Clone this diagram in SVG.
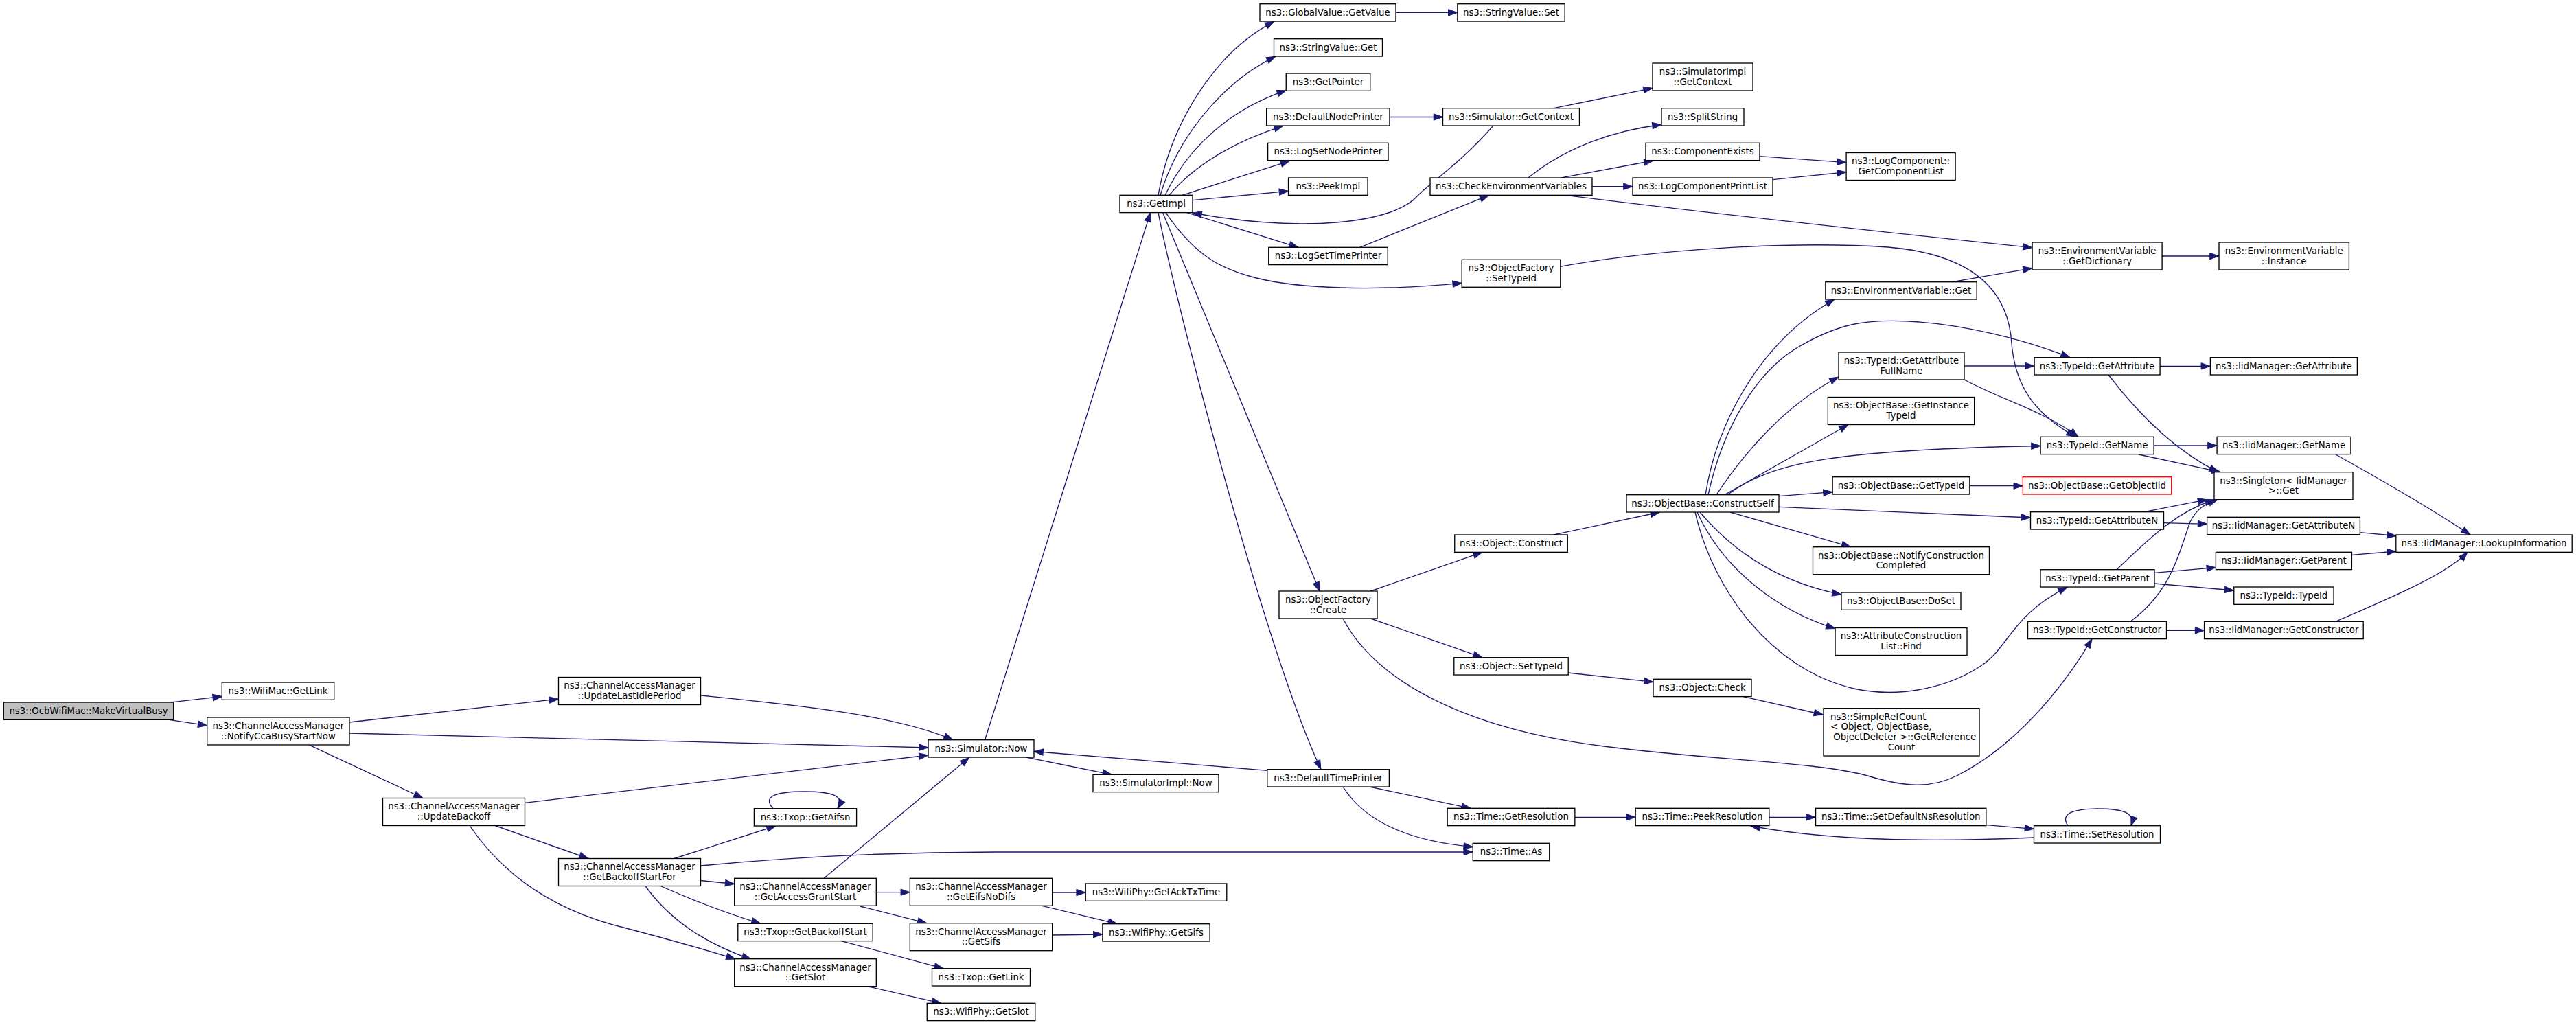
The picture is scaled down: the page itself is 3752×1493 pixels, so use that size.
<svg xmlns="http://www.w3.org/2000/svg" width="3752" height="1493" viewBox="0 0 3752 1493">
<style>
.n rect{fill:#fff;stroke:#000;stroke-width:1.33}
.n text{font-family:"DejaVu Sans","Liberation Sans",sans-serif;font-size:13.33px;text-anchor:middle;fill:#000}
.n text.l{text-anchor:start}
.root rect{fill:#bfbfbf}
.red rect{stroke:#ff0000}
#edges path{fill:none;stroke:#191970;stroke-width:1.33;marker-end:url(#arr)}
</style>
<defs>
<marker id="arr" markerUnits="userSpaceOnUse" markerWidth="16" markerHeight="12" refX="13.3" refY="4.7" orient="auto" overflow="visible">
<path d="M0,0 L13.3,4.7 L0,9.4 z" fill="#191970" stroke="#191970" stroke-width="1"/>
</marker>
</defs>
<rect width="3752" height="1493" fill="#fff"/>
<g id="edges">
<path d="M248,1023 L323.3,1014.5"/>
<path d="M248,1048.7 L301.7,1056.7"/>
<path d="M508.6,1052 L813.5,1018.2"/>
<path d="M509,1068 L1352,1089"/>
<path d="M451,1085.3 L616,1162.5"/>
<path d="M1021,1013 C1150,1026 1300,1040 1388,1077.7"/>
<path d="M764.5,1169.4 L1352,1100"/>
<path d="M721,1202.5 L857,1250.5"/>
<path d="M684,1202.5 C740,1285 820,1330 912,1352 C980,1370 1030,1384 1071,1397"/>
<path d="M982,1250.5 L1130,1203"/>
<path d="M1020.5,1261 C1150,1249 1300,1241 1450,1241 L2145.3,1241"/>
<path d="M1020.5,1282.5 L1069.7,1287.5"/>
<path d="M962,1290.5 Q1040,1325 1108,1345.3"/>
<path d="M940,1290.5 C975,1340 1030,1376 1094,1397"/>
<path d="M1126,1177.7 C1110,1160 1130,1153 1171,1153 C1215,1153 1230,1160 1220,1177.7"/>
<path d="M1200,1279.3 L1411.6,1103.4"/>
<path d="M1276.3,1299.7 L1325.3,1299.7"/>
<path d="M1252.8,1320 L1349.8,1344.7"/>
<path d="M1532.7,1300 L1581.2,1300"/>
<path d="M1517.5,1319.3 L1627.2,1345.7"/>
<path d="M1532.7,1362 L1605.9,1361"/>
<path d="M1225.4,1370.6 L1374,1410.7"/>
<path d="M1265,1437 L1370.8,1461.3"/>
<path d="M1434.6,1077.7 L1675.6,309.6"/>
<path d="M1494.5,1103 L1619.5,1128.3"/>
<path d="M1846,1122.3 L1506,1094.5"/>
<path d="M1994.6,1146 L2142,1177.3"/>
<path d="M1956,1146 C1990,1200 2060,1226 2145.3,1233.5"/>
<path d="M1687,284.3 C1705,180 1770,75 1856,31.4"/>
<path d="M1690,284.3 C1715,200 1780,120 1858,82.2"/>
<path d="M1697,284.3 C1730,215 1790,160 1873.3,131.7"/>
<path d="M1703,284.3 C1740,240 1800,205 1869,183.3"/>
<path d="M1722,284.3 L1878.5,234.3"/>
<path d="M1737,291.7 L1876.5,278.3"/>
<path d="M1728.6,309.6 L1891,360.3"/>
<path d="M1698,309.6 C1745,380 1790,395 1830,405 C1890,420 2000,425 2129.2,412.3"/>
<path d="M1693.5,309.6 L1922,861"/>
<path d="M1687,309.6 C1710,430 1840,940 1924,1120.7"/>
<path d="M2033,18.4 L2122.8,18.4"/>
<path d="M2024,170.5 L2101.5,170.5"/>
<path d="M2263,157.7 L2407,128.3"/>
<path d="M2175,183 C2130,235 2085,265 2065,285 C2030,325 1900,340 1737,310"/>
<path d="M1980.5,360.3 L2168.7,284.3"/>
<path d="M2226,259 C2280,215 2350,190 2420,181.5"/>
<path d="M2274,259 L2408,234"/>
<path d="M2319,271.7 L2378,271.7"/>
<path d="M2280,284.3 Q2550,318 2960,360.7"/>
<path d="M2563,227.7 L2689,236.7"/>
<path d="M2582,261.7 L2689,250.7"/>
<path d="M2272.8,388.3 C2400,365 2600,350 2750,360 C2870,370 2925,420 2930,500 C2935,560 2960,600 3023,636.3"/>
<path d="M2843.4,410.7 L2960,390.7"/>
<path d="M3149,373 L3232,373"/>
<path d="M1996.5,861 L2159,804.3"/>
<path d="M1996.5,901 L2159,957.7"/>
<path d="M1956,901 C2000,985 2120,1060 2336,1087 C2500,1108 2650,1110 2720,1130 C2770,1145 2810,1150 2850,1130 C2930,1090 3000,1010 3047,930.6"/>
<path d="M2263,779 L2417.4,746"/>
<path d="M2284,980 L2408,993.3"/>
<path d="M2539,1014.6 L2655.4,1041"/>
<path d="M2484,720.7 C2500,620 2560,500 2672,436"/>
<path d="M2500,720.7 C2540,660 2600,590 2678,549"/>
<path d="M2488,720.7 C2510,620 2560,540 2620,505 C2680,470 2720,465 2780,468 C2860,472 2950,495 3015,520.7"/>
<path d="M2512,720.7 L2692,618.5"/>
<path d="M2516,720.7 C2580,672 2680,655 2972,649.5"/>
<path d="M2591,722.7 L2669.1,716.7"/>
<path d="M2591,738.3 L2957.5,754"/>
<path d="M2520,746 L2695.6,796.7"/>
<path d="M2476,746 C2530,810 2600,850 2682,866"/>
<path d="M2472,746 C2510,830 2590,890 2673,915.5"/>
<path d="M2469,746 C2495,860 2580,975 2700,1003 C2770,1018 2840,1000 2885,970 C2925,945 2930,895 3011,855.3"/>
<path d="M2861,533 L2963,533"/>
<path d="M2861,553 C2910,580 2980,600 3027,636.3"/>
<path d="M3146,533.4 L3219.4,533.4"/>
<path d="M3071,546 C3120,610 3175,660 3231,687.7"/>
<path d="M3137,649 L3229,649"/>
<path d="M3115,662 L3234.6,687.7"/>
<path d="M2869,707.7 L2946.3,707.7"/>
<path d="M3123,745.7 L3214.6,727.7"/>
<path d="M3151.6,761.7 L3214.6,763.3"/>
<path d="M3402,662 C3470,700 3540,740 3598,779"/>
<path d="M3437.4,775.7 L3490,780.5"/>
<path d="M3425.4,808.3 L3490,803"/>
<path d="M3402,905.3 C3460,880 3560,840 3594,804.3"/>
<path d="M3083,829.7 C3130,785 3170,745 3225,728"/>
<path d="M3138,834.3 L3227.4,826.7"/>
<path d="M3138,850 L3253.7,860"/>
<path d="M3103,905.3 C3165,860 3175,800 3190,760 C3200,740 3212,734 3230,728"/>
<path d="M3155.5,918.3 L3210.6,918.3"/>
<path d="M2293.8,1190.3 L2382.2,1190.3"/>
<path d="M2576.8,1190.3 L2644.5,1190.3"/>
<path d="M2893,1201.7 L2962.5,1207.3"/>
<path d="M2962.5,1220 C2850,1225 2680,1228 2550,1203"/>
<path d="M3012,1202.7 C3000,1185 3020,1178 3055,1178 C3095,1178 3110,1185 3104,1202.7"/>
</g>
<g id="n0" class="n root"><rect x="5.3" y="1023" width="247.4" height="25.33"/><text x="129" y="1039.8">ns3::OcbWifiMac::MakeVirtualBusy</text></g>
<g id="n1" class="n"><rect x="323.3" y="994" width="163.4" height="25.33"/><text x="405" y="1010.8">ns3::WifiMac::GetLink</text></g>
<g id="n2" class="n"><rect x="301.7" y="1045" width="207.3" height="40"/><text x="405.3" y="1061.8">ns3::ChannelAccessManager</text><text x="405.3" y="1076.5">::NotifyCcaBusyStartNow</text></g>
<g id="n3" class="n"><rect x="813.5" y="986.5" width="207" height="40"/><text x="917" y="1003.3">ns3::ChannelAccessManager</text><text x="917" y="1018">::UpdateLastIdlePeriod</text></g>
<g id="n4" class="n"><rect x="557.5" y="1162.5" width="207" height="40"/><text x="661" y="1179.3">ns3::ChannelAccessManager</text><text x="661" y="1194">::UpdateBackoff</text></g>
<g id="n5" class="n"><rect x="813.5" y="1250.5" width="207" height="40"/><text x="917" y="1267.3">ns3::ChannelAccessManager</text><text x="917" y="1282">::GetBackoffStartFor</text></g>
<g id="n6" class="n"><rect x="1098.4" y="1177.7" width="149.2" height="25.33"/><text x="1173" y="1194.5">ns3::Txop::GetAifsn</text></g>
<g id="n7" class="n"><rect x="1069.7" y="1279.3" width="206.6" height="40"/><text x="1173" y="1296.1">ns3::ChannelAccessManager</text><text x="1173" y="1310.8">::GetAccessGrantStart</text></g>
<g id="n8" class="n"><rect x="1074.8" y="1345.3" width="196.4" height="25.33"/><text x="1173" y="1362.1">ns3::Txop::GetBackoffStart</text></g>
<g id="n9" class="n"><rect x="1069.7" y="1396.7" width="206.6" height="40"/><text x="1173" y="1413.5">ns3::ChannelAccessManager</text><text x="1173" y="1428.2">::GetSlot</text></g>
<g id="n10" class="n"><rect x="1352" y="1077.7" width="154" height="25.33"/><text x="1429" y="1094.5">ns3::Simulator::Now</text></g>
<g id="n11" class="n"><rect x="1325.35" y="1279.3" width="207.3" height="40"/><text x="1429" y="1296.1">ns3::ChannelAccessManager</text><text x="1429" y="1310.8">::GetEifsNoDifs</text></g>
<g id="n12" class="n"><rect x="1325.35" y="1344.7" width="207.3" height="40"/><text x="1429" y="1361.5">ns3::ChannelAccessManager</text><text x="1429" y="1376.2">::GetSifs</text></g>
<g id="n13" class="n"><rect x="1357.5" y="1410.7" width="143" height="25.33"/><text x="1429" y="1427.5">ns3::Txop::GetLink</text></g>
<g id="n14" class="n"><rect x="1350.25" y="1461.3" width="157.5" height="25.33"/><text x="1429" y="1478.1">ns3::WifiPhy::GetSlot</text></g>
<g id="n15" class="n"><rect x="1592" y="1128.3" width="183" height="25.33"/><text x="1683.5" y="1145.1">ns3::SimulatorImpl::Now</text></g>
<g id="n16" class="n"><rect x="1581.2" y="1287" width="205.6" height="25.33"/><text x="1684" y="1303.8">ns3::WifiPhy::GetAckTxTime</text></g>
<g id="n17" class="n"><rect x="1605.9" y="1345.7" width="156.2" height="25.33"/><text x="1684" y="1362.5">ns3::WifiPhy::GetSifs</text></g>
<g id="n18" class="n"><rect x="1631" y="284.3" width="106" height="25.33"/><text x="1684" y="301.1">ns3::GetImpl</text></g>
<g id="n19" class="n"><rect x="1835" y="5.7" width="198" height="25.33"/><text x="1934" y="22.5">ns3::GlobalValue::GetValue</text></g>
<g id="n20" class="n"><rect x="2122.85" y="5.7" width="156.3" height="25.33"/><text x="2201" y="22.5">ns3::StringValue::Set</text></g>
<g id="n21" class="n"><rect x="1855.5" y="56.7" width="158" height="25.33"/><text x="1934.5" y="73.5">ns3::StringValue::Get</text></g>
<g id="n22" class="n"><rect x="1873.25" y="107" width="122.5" height="25.33"/><text x="1934.5" y="123.8">ns3::GetPointer</text></g>
<g id="n23" class="n"><rect x="1844.65" y="157.7" width="179.3" height="25.33"/><text x="1934.3" y="174.5">ns3::DefaultNodePrinter</text></g>
<g id="n24" class="n"><rect x="2101.5" y="157.7" width="199" height="25.33"/><text x="2201" y="174.5">ns3::Simulator::GetContext</text></g>
<g id="n25" class="n"><rect x="2407" y="92" width="146" height="40"/><text x="2480" y="108.8">ns3::SimulatorImpl</text><text x="2480" y="123.5">::GetContext</text></g>
<g id="n26" class="n"><rect x="2420" y="157.7" width="120" height="25.33"/><text x="2480" y="174.5">ns3::SplitString</text></g>
<g id="n27" class="n"><rect x="1846.6" y="208.3" width="175.4" height="25.33"/><text x="1934.3" y="225.1">ns3::LogSetNodePrinter</text></g>
<g id="n28" class="n"><rect x="2397" y="208.3" width="166" height="25.33"/><text x="2480" y="225.1">ns3::ComponentExists</text></g>
<g id="n29" class="n"><rect x="1876.55" y="259" width="115.5" height="25.33"/><text x="1934.3" y="275.8">ns3::PeekImpl</text></g>
<g id="n30" class="n"><rect x="2083" y="259" width="236" height="25.33"/><text x="2201" y="275.8">ns3::CheckEnvironmentVariables</text></g>
<g id="n31" class="n"><rect x="2378" y="259" width="204" height="25.33"/><text x="2480" y="275.8">ns3::LogComponentPrintList</text></g>
<g id="n32" class="n"><rect x="1847.75" y="360.3" width="173.5" height="25.33"/><text x="1934.5" y="377.1">ns3::LogSetTimePrinter</text></g>
<g id="n33" class="n"><rect x="2129.2" y="378.3" width="143.6" height="40"/><text x="2201" y="395.1">ns3::ObjectFactory</text><text x="2201" y="409.8">::SetTypeId</text></g>
<g id="n34" class="n"><rect x="2689.1" y="222.5" width="159" height="40"/><text x="2768.6" y="239.3">ns3::LogComponent::</text><text x="2768.6" y="254">GetComponentList</text></g>
<g id="n35" class="n"><rect x="2960.1" y="353" width="189" height="40"/><text x="3054.6" y="369.8">ns3::EnvironmentVariable</text><text x="3054.6" y="384.5">::GetDictionary</text></g>
<g id="n36" class="n"><rect x="3232" y="353" width="189.4" height="40"/><text x="3326.7" y="369.8">ns3::EnvironmentVariable</text><text x="3326.7" y="384.5">::Instance</text></g>
<g id="n37" class="n"><rect x="2658.85" y="410.7" width="220.3" height="25.33"/><text x="2769" y="427.5">ns3::EnvironmentVariable::Get</text></g>
<g id="n38" class="n"><rect x="2678" y="513" width="183" height="40"/><text x="2769.5" y="529.8">ns3::TypeId::GetAttribute</text><text x="2769.5" y="544.5">FullName</text></g>
<g id="n39" class="n"><rect x="2963.1" y="520.7" width="183" height="25.33"/><text x="3054.6" y="537.5">ns3::TypeId::GetAttribute</text></g>
<g id="n40" class="n"><rect x="3219.4" y="520.7" width="214" height="25.33"/><text x="3326.4" y="537.5">ns3::IidManager::GetAttribute</text></g>
<g id="n41" class="n"><rect x="2662.35" y="578.5" width="213.3" height="40"/><text x="2769" y="595.3">ns3::ObjectBase::GetInstance</text><text x="2769" y="610">TypeId</text></g>
<g id="n42" class="n"><rect x="2972.1" y="636.3" width="165" height="25.33"/><text x="3054.6" y="653.1">ns3::TypeId::GetName</text></g>
<g id="n43" class="n"><rect x="3229.1" y="636.3" width="194.8" height="25.33"/><text x="3326.5" y="653.1">ns3::IidManager::GetName</text></g>
<g id="n44" class="n"><rect x="3225" y="687.7" width="202" height="40"/><text x="3326" y="704.5">ns3::Singleton&lt; IidManager</text><text x="3326" y="719.2">&gt;::Get</text></g>
<g id="n45" class="n"><rect x="2669.15" y="694.7" width="199.7" height="25.33"/><text x="2769" y="711.5">ns3::ObjectBase::GetTypeId</text></g>
<g id="n46" class="n red"><rect x="2946.3" y="694.7" width="216.4" height="25.33"/><text x="3054.5" y="711.5">ns3::ObjectBase::GetObjectIid</text></g>
<g id="n47" class="n"><rect x="2369" y="720.7" width="222" height="25.33"/><text x="2480" y="737.5">ns3::ObjectBase::ConstructSelf</text></g>
<g id="n48" class="n"><rect x="2957.5" y="745.7" width="194" height="25.33"/><text x="3054.5" y="762.5">ns3::TypeId::GetAttributeN</text></g>
<g id="n49" class="n"><rect x="3214.6" y="753.3" width="222.8" height="25.33"/><text x="3326" y="770.1">ns3::IidManager::GetAttributeN</text></g>
<g id="n50" class="n"><rect x="3489.8" y="779" width="256.4" height="25.33"/><text x="3618" y="795.8">ns3::IidManager::LookupInformation</text></g>
<g id="n51" class="n"><rect x="2640.5" y="796.7" width="257" height="40"/><text x="2769" y="813.5">ns3::ObjectBase::NotifyConstruction</text><text x="2769" y="828.2">Completed</text></g>
<g id="n52" class="n"><rect x="3227.4" y="804.3" width="198" height="25.33"/><text x="3326.4" y="821.1">ns3::IidManager::GetParent</text></g>
<g id="n53" class="n"><rect x="2972" y="829.7" width="166" height="25.33"/><text x="3055" y="846.5">ns3::TypeId::GetParent</text></g>
<g id="n54" class="n"><rect x="3253.75" y="855" width="145.3" height="25.33"/><text x="3326.4" y="871.8">ns3::TypeId::TypeId</text></g>
<g id="n55" class="n"><rect x="2682" y="863" width="174" height="25.33"/><text x="2769" y="879.8">ns3::ObjectBase::DoSet</text></g>
<g id="n56" class="n"><rect x="2953.5" y="905.3" width="202" height="25.33"/><text x="3054.5" y="922.1">ns3::TypeId::GetConstructor</text></g>
<g id="n57" class="n"><rect x="3210.6" y="905.3" width="231.6" height="25.33"/><text x="3326.4" y="922.1">ns3::IidManager::GetConstructor</text></g>
<g id="n58" class="n"><rect x="2673" y="914.5" width="192" height="40"/><text x="2769" y="931.3">ns3::AttributeConstruction</text><text x="2769" y="946">List::Find</text></g>
<g id="n59" class="n"><rect x="1863" y="861" width="143" height="40"/><text x="1934.5" y="877.8">ns3::ObjectFactory</text><text x="1934.5" y="892.5">::Create</text></g>
<g id="n60" class="n"><rect x="2118.75" y="779" width="164.5" height="25.33"/><text x="2201" y="795.8">ns3::Object::Construct</text></g>
<g id="n61" class="n"><rect x="2117.8" y="957.7" width="166.4" height="25.33"/><text x="2201" y="974.5">ns3::Object::SetTypeId</text></g>
<g id="n62" class="n"><rect x="2408" y="989.3" width="143" height="25.33"/><text x="2479.5" y="1006.1">ns3::Object::Check</text></g>
<g id="n63" class="n"><rect x="2656" y="1031.7" width="227" height="69.33"/><text class="l" x="2666" y="1048.5">ns3::SimpleRefCount</text><text class="l" x="2666" y="1063.2">&lt; Object, ObjectBase,</text><text class="l" x="2670.2" y="1077.9">ObjectDeleter &gt;::GetReference</text><text x="2769.5" y="1092.5">Count</text></g>
<g id="n64" class="n"><rect x="1845.8" y="1120.7" width="177.6" height="25.33"/><text x="1934.6" y="1137.5">ns3::DefaultTimePrinter</text></g>
<g id="n65" class="n"><rect x="2108.15" y="1177.3" width="185.7" height="25.33"/><text x="2201" y="1194.1">ns3::Time::GetResolution</text></g>
<g id="n66" class="n"><rect x="2382.15" y="1177.3" width="194.7" height="25.33"/><text x="2479.5" y="1194.1">ns3::Time::PeekResolution</text></g>
<g id="n67" class="n"><rect x="2644.55" y="1177.3" width="248.3" height="25.33"/><text x="2768.7" y="1194.1">ns3::Time::SetDefaultNsResolution</text></g>
<g id="n68" class="n"><rect x="2962.5" y="1202.7" width="184" height="25.33"/><text x="3054.5" y="1219.5">ns3::Time::SetResolution</text></g>
<g id="n69" class="n"><rect x="2145.25" y="1228.3" width="111.5" height="25.33"/><text x="2201" y="1245.1">ns3::Time::As</text></g>
</svg>
